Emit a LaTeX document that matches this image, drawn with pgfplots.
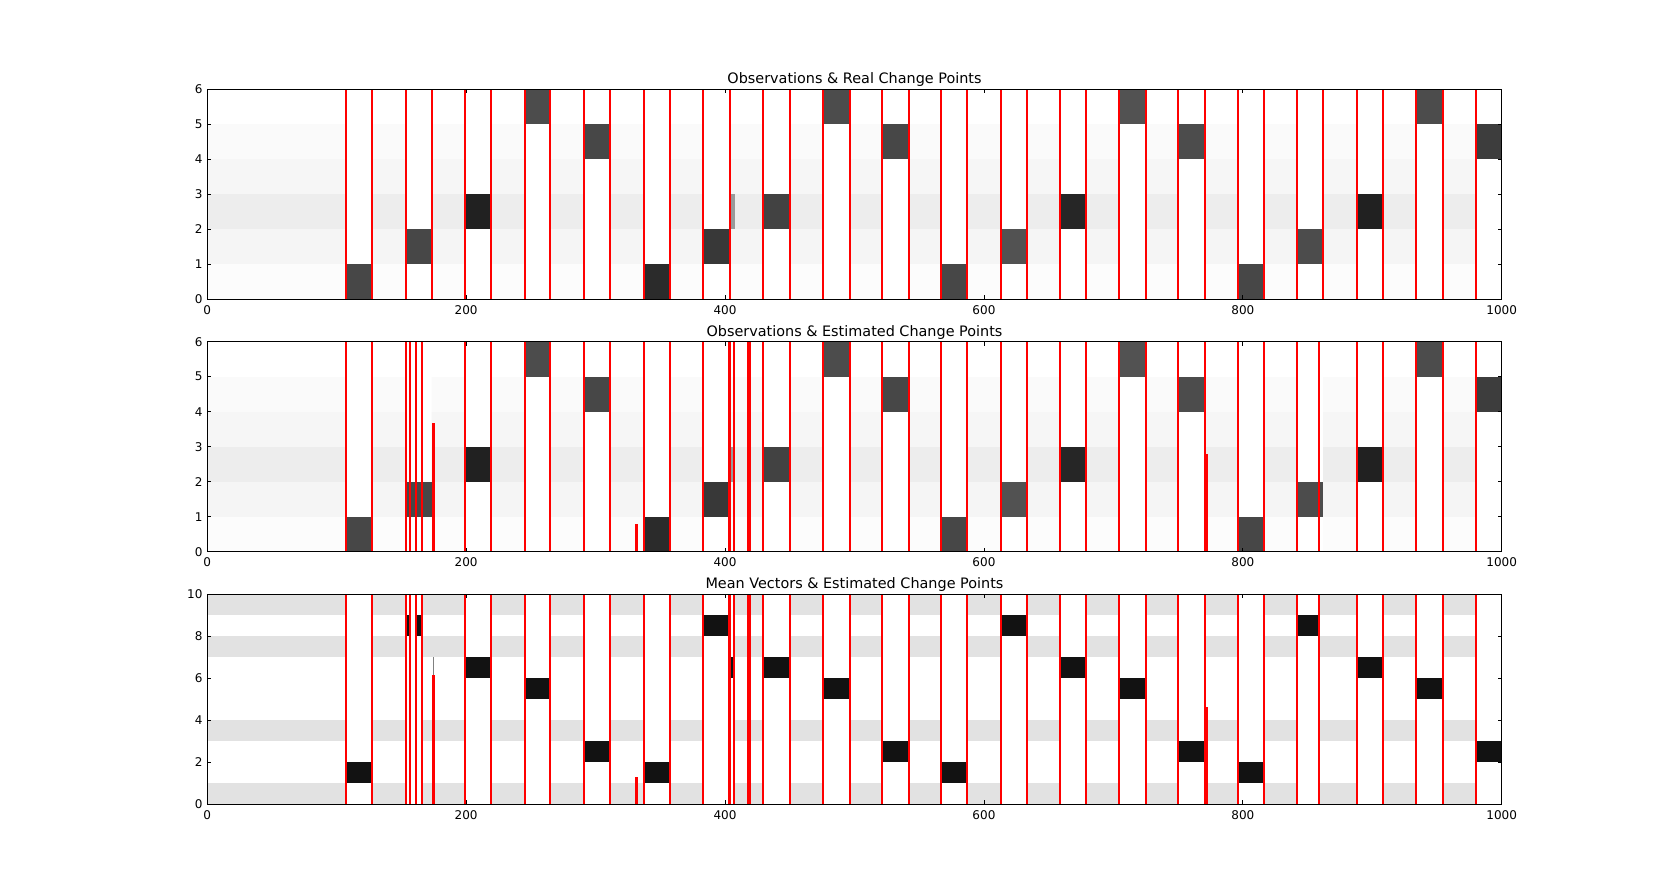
\documentclass[border=0pt]{standalone}
\usepackage{fontspec}
\setmainfont{DejaVu Sans}
\usepackage{pgfplots}
\pgfplotsset{compat=1.18}
\definecolor{fa}{HTML}{FCFCFC}
\definecolor{fb}{HTML}{F5F5F5}
\definecolor{fc}{HTML}{EDEDED}
\definecolor{fd}{HTML}{F6F6F6}
\definecolor{fe}{HTML}{FAFAFA}
\definecolor{band}{HTML}{E2E2E2}
\definecolor{blk}{HTML}{121212}
\pgfplotsset{
  panel/.style={
    scale only axis, width=1294.4pt, height=210pt, anchor=south west,
    xmin=0, xmax=1000, ymin=0,
    axis line style={black, line width=0.8pt},
    tick style={black, line width=0.8pt},
    major tick length=4pt,
    tick align=inside,
    xtick={0,200,400,600,800,1000},
    scaled ticks=false,
    /pgf/number format/1000 sep={},
    /pgf/number format/assume math mode=true,
    tick label style={font=\fontsize{12}{14}\selectfont},
    xticklabel style={anchor=north, inner sep=0pt, yshift=-5.7pt},
    yticklabel style={anchor=east, inner sep=0pt, xshift=-4.6pt},
    every axis title/.style={font=\fontsize{14.4}{17}\selectfont, at={(0.5,1)}, anchor=base, yshift=5.3pt, inner sep=0pt},
    axis on top,
  },
  cp/.style={ycomb, red, line width=2pt, mark=none},
  cpthick/.style={ycomb, red, line width=3.4pt, mark=none},
}
\begin{document}
\begin{tikzpicture}
\useasboundingbox (0,0) rectangle (1668pt,894pt);
% ================= Panel 1 =================
\begin{axis}[panel, at={(207.3pt,594.7pt)}, ymax=6, ytick={0,1,2,3,4,5,6},
  title={Observations \& Real Change Points}]
\addplot[draw=none, fill=fa] coordinates {(0,0) (1000,0) (1000,1) (0,1)} --cycle;
\addplot[draw=none, fill=fb] coordinates {(0,1) (1000,1) (1000,2) (0,2)} --cycle;
\addplot[draw=none, fill=fc] coordinates {(0,2) (1000,2) (1000,3) (0,3)} --cycle;
\addplot[draw=none, fill=fd] coordinates {(0,3) (1000,3) (1000,4) (0,4)} --cycle;
\addplot[draw=none, fill=fe] coordinates {(0,4) (1000,4) (1000,5) (0,5)} --cycle;
\addplot[const plot, draw=none, fill=white] coordinates {(0,0) (107.4,6) (127.2,0) (153.5,6) (173.3,0) (199.3,6) (219.2,0) (245.1,6) (265,0) (291.3,6) (311.1,0) (337.4,6) (357.4,0) (382.7,6) (404,0) (429,6) (450.1,0) (475.4,6) (496.5,0) (521.2,6) (541.8,0) (567,6) (587.1,0) (613.1,6) (633.2,0) (659,6) (679.1,0) (704.5,6) (725.1,0) (749.9,6) (771,0) (796,6) (816,0) (841.5,6) (861.9,0) (887.9,6) (908,0) (934,6) (954.8,0) (980.1,6) (1000,6)} \closedcycle;
\addplot[draw=none, fill=black!40] coordinates {(404.3,2) (408,2) (408,3) (404.3,3)} --cycle;
\addplot[draw=none, fill=black!72] coordinates {(107.4,0) (127.2,0) (127.2,1) (107.4,1)} --cycle;
\addplot[draw=none, fill=black!72] coordinates {(153.5,1) (173.3,1) (173.3,2) (153.5,2)} --cycle;
\addplot[draw=none, fill=black!87] coordinates {(199.3,2) (219.2,2) (219.2,3) (199.3,3)} --cycle;
\addplot[draw=none, fill=black!70] coordinates {(245.1,5) (265,5) (265,6) (245.1,6)} --cycle;
\addplot[draw=none, fill=black!72] coordinates {(291.3,4) (311.1,4) (311.1,5) (291.3,5)} --cycle;
\addplot[draw=none, fill=black!83] coordinates {(337.4,0) (357.4,0) (357.4,1) (337.4,1)} --cycle;
\addplot[draw=none, fill=black!78] coordinates {(382.7,1) (404,1) (404,2) (382.7,2)} --cycle;
\addplot[draw=none, fill=black!74] coordinates {(429,2) (450.1,2) (450.1,3) (429,3)} --cycle;
\addplot[draw=none, fill=black!70] coordinates {(475.4,5) (496.5,5) (496.5,6) (475.4,6)} --cycle;
\addplot[draw=none, fill=black!72] coordinates {(521.2,4) (541.8,4) (541.8,5) (521.2,5)} --cycle;
\addplot[draw=none, fill=black!72] coordinates {(567,0) (587.1,0) (587.1,1) (567,1)} --cycle;
\addplot[draw=none, fill=black!68] coordinates {(613.1,1) (633.2,1) (633.2,2) (613.1,2)} --cycle;
\addplot[draw=none, fill=black!85] coordinates {(659,2) (679.1,2) (679.1,3) (659,3)} --cycle;
\addplot[draw=none, fill=black!68] coordinates {(704.5,5) (725.1,5) (725.1,6) (704.5,6)} --cycle;
\addplot[draw=none, fill=black!70] coordinates {(749.9,4) (771,4) (771,5) (749.9,5)} --cycle;
\addplot[draw=none, fill=black!72] coordinates {(796,0) (816,0) (816,1) (796,1)} --cycle;
\addplot[draw=none, fill=black!70] coordinates {(841.5,1) (861.9,1) (861.9,2) (841.5,2)} --cycle;
\addplot[draw=none, fill=black!87] coordinates {(887.9,2) (908,2) (908,3) (887.9,3)} --cycle;
\addplot[draw=none, fill=black!70] coordinates {(934,5) (954.8,5) (954.8,6) (934,6)} --cycle;
\addplot[draw=none, fill=black!76] coordinates {(980.1,4) (1000,4) (1000,5) (980.1,5)} --cycle;
\addplot[cp] coordinates {(107.4,6) (127.2,6) (153.5,6) (173.3,6) (199.3,6) (219.2,6) (245.1,6) (265,6) (291.3,6) (311.1,6) (337.4,6) (357.4,6) (382.7,6) (404,6) (429,6) (450.1,6) (475.4,6) (496.5,6) (521.2,6) (541.8,6) (567,6) (587.1,6) (613.1,6) (633.2,6) (659,6) (679.1,6) (704.5,6) (725.1,6) (749.9,6) (771,6) (796,6) (816,6) (841.5,6) (861.9,6) (887.9,6) (908,6) (934,6) (954.8,6) (980.1,6)};
\end{axis}
% ================= Panel 2 =================
\begin{axis}[panel, at={(207.3pt,342.3pt)}, ymax=6, ytick={0,1,2,3,4,5,6},
  title={Observations \& Estimated Change Points}]
\addplot[draw=none, fill=fa] coordinates {(0,0) (1000,0) (1000,1) (0,1)} --cycle;
\addplot[draw=none, fill=fb] coordinates {(0,1) (1000,1) (1000,2) (0,2)} --cycle;
\addplot[draw=none, fill=fc] coordinates {(0,2) (1000,2) (1000,3) (0,3)} --cycle;
\addplot[draw=none, fill=fd] coordinates {(0,3) (1000,3) (1000,4) (0,4)} --cycle;
\addplot[draw=none, fill=fe] coordinates {(0,4) (1000,4) (1000,5) (0,5)} --cycle;
\addplot[const plot, draw=none, fill=white] coordinates {(0,0) (107.4,6) (127.2,0) (153.5,6) (173.3,0) (199.3,6) (219.2,0) (245.1,6) (265,0) (291.3,6) (311.1,0) (337.4,6) (357.4,0) (382.7,6) (404,0) (429,6) (450.1,0) (475.4,6) (496.5,0) (521.2,6) (541.8,0) (567,6) (587.1,0) (613.1,6) (633.2,0) (659,6) (679.1,0) (704.5,6) (725.1,0) (749.9,6) (771,0) (796,6) (816,0) (841.5,6) (861.9,0) (887.9,6) (908,0) (934,6) (954.8,0) (980.1,6) (1000,6)} \closedcycle;
\addplot[draw=none, fill=black!40] coordinates {(404.3,2) (408,2) (408,3) (404.3,3)} --cycle;
\addplot[draw=none, fill=black!72] coordinates {(107.4,0) (127.2,0) (127.2,1) (107.4,1)} --cycle;
\addplot[draw=none, fill=black!72] coordinates {(153.5,1) (173.3,1) (173.3,2) (153.5,2)} --cycle;
\addplot[draw=none, fill=black!87] coordinates {(199.3,2) (219.2,2) (219.2,3) (199.3,3)} --cycle;
\addplot[draw=none, fill=black!70] coordinates {(245.1,5) (265,5) (265,6) (245.1,6)} --cycle;
\addplot[draw=none, fill=black!72] coordinates {(291.3,4) (311.1,4) (311.1,5) (291.3,5)} --cycle;
\addplot[draw=none, fill=black!83] coordinates {(337.4,0) (357.4,0) (357.4,1) (337.4,1)} --cycle;
\addplot[draw=none, fill=black!78] coordinates {(382.7,1) (404,1) (404,2) (382.7,2)} --cycle;
\addplot[draw=none, fill=black!74] coordinates {(429,2) (450.1,2) (450.1,3) (429,3)} --cycle;
\addplot[draw=none, fill=black!70] coordinates {(475.4,5) (496.5,5) (496.5,6) (475.4,6)} --cycle;
\addplot[draw=none, fill=black!72] coordinates {(521.2,4) (541.8,4) (541.8,5) (521.2,5)} --cycle;
\addplot[draw=none, fill=black!72] coordinates {(567,0) (587.1,0) (587.1,1) (567,1)} --cycle;
\addplot[draw=none, fill=black!68] coordinates {(613.1,1) (633.2,1) (633.2,2) (613.1,2)} --cycle;
\addplot[draw=none, fill=black!85] coordinates {(659,2) (679.1,2) (679.1,3) (659,3)} --cycle;
\addplot[draw=none, fill=black!68] coordinates {(704.5,5) (725.1,5) (725.1,6) (704.5,6)} --cycle;
\addplot[draw=none, fill=black!70] coordinates {(749.9,4) (771,4) (771,5) (749.9,5)} --cycle;
\addplot[draw=none, fill=black!72] coordinates {(796,0) (816,0) (816,1) (796,1)} --cycle;
\addplot[draw=none, fill=black!70] coordinates {(841.5,1) (861.9,1) (861.9,2) (841.5,2)} --cycle;
\addplot[draw=none, fill=black!87] coordinates {(887.9,2) (908,2) (908,3) (887.9,3)} --cycle;
\addplot[draw=none, fill=black!70] coordinates {(934,5) (954.8,5) (954.8,6) (934,6)} --cycle;
\addplot[draw=none, fill=black!76] coordinates {(980.1,4) (1000,4) (1000,5) (980.1,5)} --cycle;
\addplot[cp] coordinates {(107.4,6) (127.2,6) (153.5,6) (156.6,6) (161.2,6) (166.2,6) (199.3,6) (219.2,6) (245.1,6) (265,6) (291.3,6) (311.1,6) (337.4,6) (357.6,6) (382.7,6) (402.9,6) (404.0,6) (407.1,6) (418.1,6) (418.9,6) (429,6) (450.1,6) (475.4,6) (496.5,6) (521.2,6) (541.8,6) (567,6) (587.1,6) (613.1,6) (633.2,6) (659,6) (679.1,6) (704.5,6) (725.1,6) (749.9,6) (771,6) (796,6) (816,6) (841.5,6) (859,6) (887.9,6) (908,6) (934,6) (954.8,6) (980.1,6)};
\addplot[cpthick] coordinates {(174.6,3.67) (331.7,0.79) (772.1,2.79)};
\end{axis}
% ================= Panel 3 =================
\begin{axis}[panel, at={(207.3pt,89.7pt)}, ymax=10, ytick={0,2,4,6,8,10},
  title={Mean Vectors \& Estimated Change Points}]
\addplot[draw=none, fill=band] coordinates {(0,0) (1000,0) (1000,1) (0,1)} --cycle;
\addplot[draw=none, fill=band] coordinates {(0,3) (1000,3) (1000,4) (0,4)} --cycle;
\addplot[draw=none, fill=band] coordinates {(0,7) (1000,7) (1000,8) (0,8)} --cycle;
\addplot[draw=none, fill=band] coordinates {(0,9) (1000,9) (1000,10) (0,10)} --cycle;
\addplot[const plot, draw=none, fill=white] coordinates {(0,0) (107.4,10) (127.2,0) (153.5,10) (166.2,0) (199.3,10) (219.2,0) (245.1,10) (265,0) (291.3,10) (311.1,0) (337.4,10) (357.4,0) (382.7,10) (407.1,0) (429,10) (450.1,0) (475.4,10) (496.5,0) (521.2,10) (541.8,0) (567,10) (587.1,0) (613.1,10) (633.2,0) (659,10) (679.1,0) (704.5,10) (725.1,0) (749.9,10) (771,0) (796,10) (816,0) (841.5,10) (859,0) (887.9,10) (908,0) (934,10) (954.8,0) (980.1,10) (1000,10)} \closedcycle;
\addplot[draw=none, fill=blk] coordinates {(107.4,1) (127.2,1) (127.2,2) (107.4,2)} --cycle;
\addplot[draw=none, fill=blk] coordinates {(153.5,8) (156.6,8) (156.6,9) (153.5,9)} --cycle;
\addplot[draw=none, fill=blk] coordinates {(161.2,8) (166.2,8) (166.2,9) (161.2,9)} --cycle;
\addplot[draw=none, fill=blk] coordinates {(199.3,6) (219.2,6) (219.2,7) (199.3,7)} --cycle;
\addplot[draw=none, fill=blk] coordinates {(245.1,5) (265,5) (265,6) (245.1,6)} --cycle;
\addplot[draw=none, fill=blk] coordinates {(291.3,2) (311.1,2) (311.1,3) (291.3,3)} --cycle;
\addplot[draw=none, fill=blk] coordinates {(337.4,1) (357.4,1) (357.4,2) (337.4,2)} --cycle;
\addplot[draw=none, fill=blk] coordinates {(382.7,8) (402.9,8) (402.9,9) (382.7,9)} --cycle;
\addplot[draw=none, fill=blk] coordinates {(404.0,6) (407.1,6) (407.1,7) (404.0,7)} --cycle;
\addplot[draw=none, fill=blk] coordinates {(429,6) (450.1,6) (450.1,7) (429,7)} --cycle;
\addplot[draw=none, fill=blk] coordinates {(475.4,5) (496.5,5) (496.5,6) (475.4,6)} --cycle;
\addplot[draw=none, fill=blk] coordinates {(521.2,2) (541.8,2) (541.8,3) (521.2,3)} --cycle;
\addplot[draw=none, fill=blk] coordinates {(567,1) (587.1,1) (587.1,2) (567,2)} --cycle;
\addplot[draw=none, fill=blk] coordinates {(613.1,8) (633.2,8) (633.2,9) (613.1,9)} --cycle;
\addplot[draw=none, fill=blk] coordinates {(659,6) (679.1,6) (679.1,7) (659,7)} --cycle;
\addplot[draw=none, fill=blk] coordinates {(704.5,5) (725.1,5) (725.1,6) (704.5,6)} --cycle;
\addplot[draw=none, fill=blk] coordinates {(749.9,2) (771,2) (771,3) (749.9,3)} --cycle;
\addplot[draw=none, fill=blk] coordinates {(796,1) (816,1) (816,2) (796,2)} --cycle;
\addplot[draw=none, fill=blk] coordinates {(841.5,8) (859,8) (859,9) (841.5,9)} --cycle;
\addplot[draw=none, fill=blk] coordinates {(887.9,6) (908,6) (908,7) (887.9,7)} --cycle;
\addplot[draw=none, fill=blk] coordinates {(934,5) (954.8,5) (954.8,6) (934,6)} --cycle;
\addplot[draw=none, fill=blk] coordinates {(980.1,2) (1000,2) (1000,3) (980.1,3)} --cycle;
\addplot[gray, line width=0.8pt] coordinates {(174.6,6.15) (174.6,7)};
\addplot[cp] coordinates {(107.4,10) (127.2,10) (153.5,10) (156.6,10) (161.2,10) (166.2,10) (199.3,10) (219.2,10) (245.1,10) (265,10) (291.3,10) (311.1,10) (337.4,10) (357.6,10) (382.7,10) (402.9,10) (404.0,10) (407.1,10) (418.1,10) (418.9,10) (429,10) (450.1,10) (475.4,10) (496.5,10) (521.2,10) (541.8,10) (567,10) (587.1,10) (613.1,10) (633.2,10) (659,10) (679.1,10) (704.5,10) (725.1,10) (749.9,10) (771,10) (796,10) (816,10) (841.5,10) (859,10) (887.9,10) (908,10) (934,10) (954.8,10) (980.1,10)};
\addplot[cpthick] coordinates {(174.6,6.15) (331.7,1.31) (772.1,4.65)};
\end{axis}
\end{tikzpicture}
\end{document}
